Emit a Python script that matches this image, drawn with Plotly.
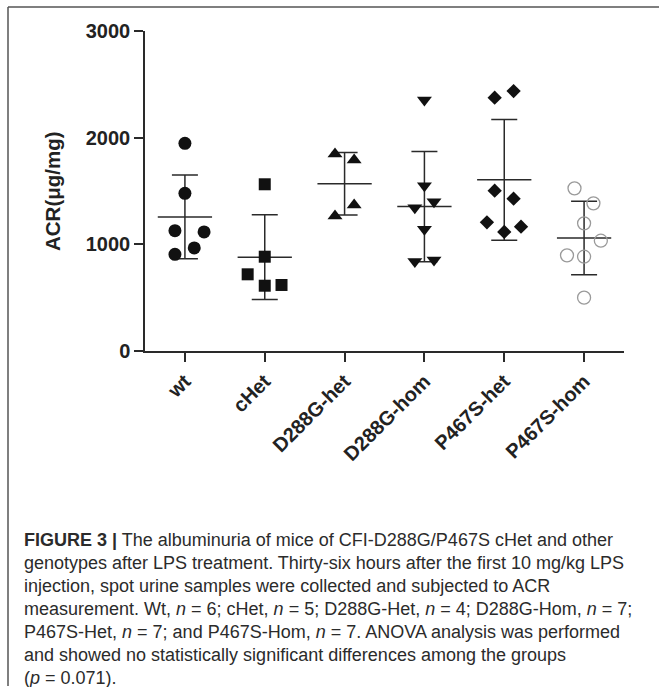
import numpy as np
import plotly.graph_objects as go

# ---------------- data ----------------
categories = ["wt", "cHet", "D288G-het", "D288G-hom", "P467S-het", "P467S-hom"]

wt_vals = [1947, 1478, 1128, 1116, 966, 906]
chet_vals = [1563, 884, 719, 612, 619]
d288g_het_vals = [1848, 1790, 1369, 1266]
d288g_hom_vals = [2353, 1550, 1344, 1400, 1141, 838, 853]
p467s_het_vals = [2375, 2437, 1503, 1428, 1206, 1166, 1116]
p467s_hom_vals = [1525, 1384, 1197, 1034, 897, 884, 500]

y_ticks = [0, 1000, 2000, 3000]

# horizontal spread of the dots (category units), like a scatter dot plot
wt_dx = [0, 0, -0.125, 0.24, 0.117, -0.125]
chet_dx = [0, 0, -0.214, 0, 0.21]
d288g_het_dx = [-0.12, 0.12, 0.12, -0.12]
d288g_hom_dx = [0, 0, -0.12, 0.12, 0, -0.12, 0.12]
p467s_het_dx = [-0.12, 0.117, -0.12, 0.117, -0.217, 0.21, 0]
p467s_hom_dx = [-0.12, 0.117, 0, 0.21, -0.214, 0, 0]

caption_lines = [
    "<b>FIGURE 3 |</b> The albuminuria of mice of CFI-D288G/P467S cHet and other",
    "genotypes after LPS treatment. Thirty-six hours after the first 10 mg/kg LPS",
    "injection, spot urine samples were collected and subjected to ACR",
    "measurement. Wt, <i>n</i> = 6; cHet, <i>n</i> = 5; D288G-Het, <i>n</i> = 4; D288G-Hom, <i>n</i> = 7;",
    "P467S-Het, <i>n</i> = 7; and P467S-Hom, <i>n</i> = 7. ANOVA analysis was performed",
    "and showed no statistically significant differences among the groups",
    "(<i>p</i> = 0.071).",
]

# ---------------- layout geometry ----------------
W, H = 659, 687
L, R, T, B = 145, 624, 31, 351  # plot area in pixels


def px_x(px):
    return (px - L) / (R - L)


def px_y(py):
    return (B - py) / (B - T)


groups = [
    (wt_vals, wt_dx, dict(symbol="circle", size=13, color="#111")),
    (chet_vals, chet_dx, dict(symbol="square", size=12, color="#111")),
    (d288g_het_vals, d288g_het_dx, dict(symbol="triangle-up", size=13, color="#111")),
    (d288g_hom_vals, d288g_hom_dx, dict(symbol="triangle-down", size=13, color="#111")),
    (p467s_het_vals, p467s_het_dx, dict(symbol="diamond", size=11, color="#111")),
    (p467s_hom_vals, p467s_hom_dx,
     dict(symbol="circle-open", size=13, color="#9a9a9a", line=dict(width=1.3, color="#9a9a9a"))),
]

fig = go.Figure()
line_col = "#2a2a2a"

means = [float(np.mean(v)) for v, _, _ in groups]
sds = [float(np.std(v, ddof=1)) for v, _, _ in groups]

# mean lines
mx, my = [], []
for i, m in enumerate(means):
    mx += [i - 0.34, i + 0.34, None]
    my += [m, m, None]
fig.add_trace(go.Scatter(x=mx, y=my, mode="lines", line=dict(color=line_col, width=1.5),
                         hoverinfo="skip", showlegend=False, cliponaxis=False))

# SD error bars
fig.add_trace(go.Scatter(
    x=list(range(len(categories))), y=means, mode="markers",
    marker=dict(size=1, color="rgba(0,0,0,0)"),
    error_y=dict(type="data", array=sds, visible=True, color=line_col, thickness=1.5, width=13),
    showlegend=False, cliponaxis=False))

# dots
for i, (vals, dx, mk) in enumerate(groups):
    fig.add_trace(go.Scatter(
        x=[i + d for d in dx], y=vals, mode="markers", marker=mk,
        showlegend=False, cliponaxis=False))

tick_font = dict(family="Arial, Liberation Sans, sans-serif", size=20, color="#222", weight="bold")

fig.update_xaxes(
    range=[-0.5, 5.5], tickmode="array", tickvals=list(range(len(categories))),
    ticktext=categories, tickangle=-45, ticks="outside", ticklen=9, tickwidth=1.5,
    tickcolor=line_col, showline=True, linewidth=1.5, linecolor=line_col,
    showgrid=False, zeroline=False, tickfont=tick_font, fixedrange=True)
fig.update_yaxes(
    range=[0, 3000], tickmode="array", tickvals=y_ticks, ticks="outside", ticklen=9,
    tickwidth=1.5, tickcolor=line_col, showline=True, linewidth=1.5, linecolor=line_col,
    showgrid=False, zeroline=False, tickfont=tick_font, fixedrange=True)

annotations = [dict(
    text="ACR(μg/mg)", x=px_x(52), y=0.5, xref="paper", yref="paper", textangle=-90,
    showarrow=False, xanchor="center", yanchor="middle",
    font=dict(family="Arial, Liberation Sans, sans-serif", size=20.5, color="#222", weight="bold"))]

for k, line in enumerate(caption_lines):
    annotations.append(dict(
        text=line, x=px_x(22), y=px_y(540 + 23 * k), xref="paper", yref="paper",
        showarrow=False, xanchor="left", yanchor="middle", align="left",
        font=dict(family="Arial, Liberation Sans, sans-serif", size=18, color="#2b2b2b")))

shapes = [
    dict(type="line", xref="paper", yref="paper", x0=px_x(8), x1=px_x(659), y0=px_y(7), y1=px_y(7),
         line=dict(color="#555", width=1.5)),
    dict(type="line", xref="paper", yref="paper", x0=px_x(8), x1=px_x(8), y0=px_y(7), y1=px_y(686),
         line=dict(color="#555", width=1.5)),
]

fig.update_layout(
    width=W, height=H, margin=dict(l=L, r=W - R, t=T, b=H - B, pad=0),
    plot_bgcolor="white", paper_bgcolor="white",
    annotations=annotations, shapes=shapes, showlegend=False)

fig.write_html("out.html")
